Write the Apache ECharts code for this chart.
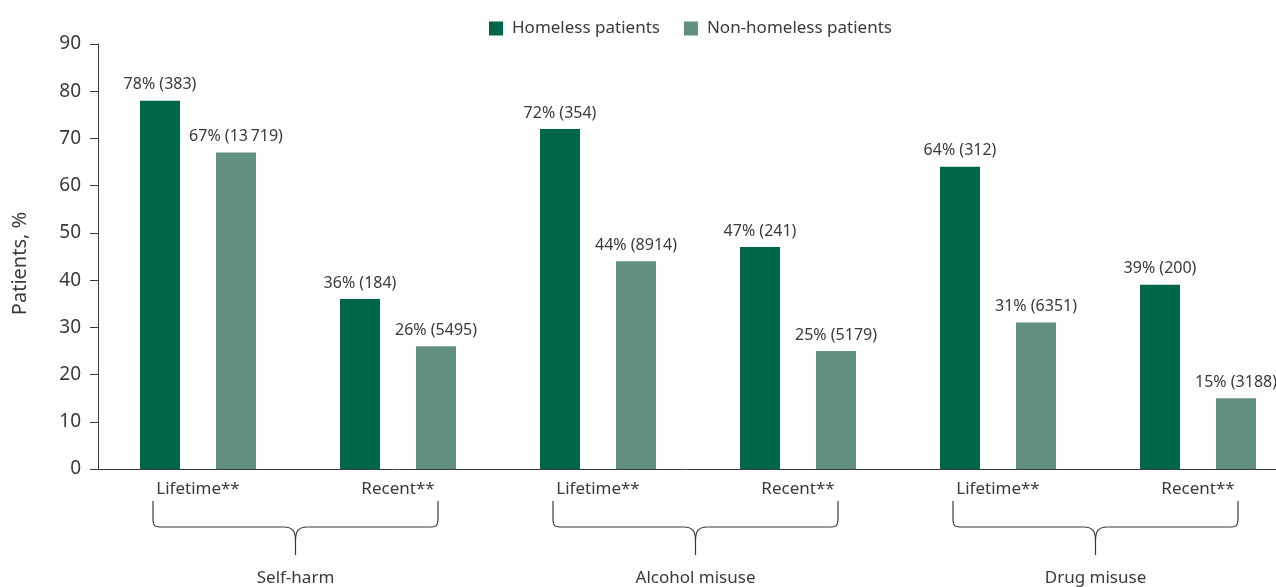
<!DOCTYPE html>
<html>
<head>
<meta charset="utf-8">
<script src="https://cdn.jsdelivr.net/npm/echarts@6/dist/echarts.min.js"></script>
<style>
html,body{margin:0;padding:0;background:#fff;}
#main{width:1276px;height:587px;}
</style>
</head>
<body>
<div id="main"></div>
<script>
const categories = ['Lifetime**', 'Recent**', 'Lifetime**', 'Recent**', 'Lifetime**', 'Recent**'];
const groups = ['Self-harm', 'Alcohol misuse', 'Drug misuse'];
const seriesNames = ['Homeless patients', 'Non-homeless patients'];
const homeless = [78, 36, 72, 47, 64, 39];
const homelessCounts = ['383', '184', '354', '241', '312', '200'];
const nonHomeless = [67, 26, 44, 25, 31, 15];
const nonHomelessCounts = ['13\u2009719', '5495', '8914', '5179', '6351', '3188'];
const yTicks = { min: 0, max: 90, interval: 10 };

const FONT = '"Noto Sans", sans-serif';
const TXT = '#3a3a3a';
const C1 = '#00664a';
const C2 = '#62907e';

const chart = echarts.init(document.getElementById('main'), null, { renderer: 'canvas' });

function labelFor(counts) {
  return function (p) { return p.value + '% (' + counts[p.dataIndex] + ')'; };
}

chart.setOption({
  animation: false,
  textStyle: { fontFamily: FONT },
  legend: {
    left: 484, top: 15,
    itemWidth: 14, itemHeight: 14, itemGap: 24,
    icon: 'rect',
    textStyle: { fontSize: 17, color: TXT, fontFamily: FONT, padding: [0, 0, 0, 4] },
    data: seriesNames
  },
  grid: { left: 98, width: 1200, top: 44, bottom: 118, containLabel: false, outerBoundsMode: 'none' },
  xAxis: {
    type: 'category',
    data: categories,
    axisTick: { show: false },
    axisLine: { lineStyle: { color: TXT, width: 1 } },
    axisLabel: { fontSize: 17, color: TXT, margin: 12, fontFamily: FONT }
  },
  yAxis: {
    type: 'value',
    min: yTicks.min, max: yTicks.max, interval: yTicks.interval,
    name: 'Patients, %',
    nameLocation: 'middle',
    nameGap: 68,
    nameTextStyle: { fontSize: 20, color: TXT, fontFamily: FONT, padding: [0, 14, 0, 0] },
    axisLine: { show: true, lineStyle: { color: TXT, width: 1 } },
    axisTick: { show: true, length: 8, lineStyle: { color: TXT } },
    splitLine: { show: false },
    axisLabel: { fontSize: 19, color: TXT, margin: 17, fontFamily: FONT }
  },
  series: [
    {
      name: seriesNames[0], type: 'bar', data: homeless,
      barWidth: 40, barGap: '90%',
      itemStyle: { color: C1 },
      label: { show: true, position: 'top', distance: 8, fontSize: 16, color: TXT, fontFamily: FONT, formatter: labelFor(homelessCounts) }
    },
    {
      name: seriesNames[1], type: 'bar', data: nonHomeless,
      barWidth: 40, barGap: '90%',
      itemStyle: { color: C2 },
      label: { show: true, position: 'top', distance: 8, fontSize: 16, color: TXT, fontFamily: FONT, formatter: labelFor(nonHomelessCounts) }
    }
  ]
});

// Braces and group labels, positioned from the category axis scale
(function () {
  const y0 = chart.convertToPixel({ yAxisIndex: 0 }, 0);
  const top = y0 + 32, mid = y0 + 58, tip = y0 + 86;
  const els = [];
  const ls = { stroke: TXT, lineWidth: 1.2, fill: null };
  groups.forEach(function (g, gi) {
    const a = chart.convertToPixel({ xAxisIndex: 0 }, gi * 2);
    const b = chart.convertToPixel({ xAxisIndex: 0 }, gi * 2 + 1);
    const xl = a - 45, xr = b + 40, xm = (xl + xr) / 2;
    els.push({ type: 'line', shape: { x1: xl, y1: top, x2: xl, y2: mid - 9 }, style: ls, silent: true });
    els.push({ type: 'bezierCurve', shape: { x1: xl, y1: mid - 9, cpx1: xl, cpy1: mid, cpx2: xl + 2, cpy2: mid, x2: xl + 10, y2: mid }, style: ls, silent: true });
    els.push({ type: 'line', shape: { x1: xl + 10, y1: mid, x2: xm - 12, y2: mid }, style: ls, silent: true });
    els.push({ type: 'bezierCurve', shape: { x1: xm - 12, y1: mid, cpx1: xm - 2, cpy1: mid, cpx2: xm, cpy2: mid + 5, x2: xm, y2: mid + 14 }, style: ls, silent: true });
    els.push({ type: 'line', shape: { x1: xr, y1: top, x2: xr, y2: mid - 9 }, style: ls, silent: true });
    els.push({ type: 'bezierCurve', shape: { x1: xr, y1: mid - 9, cpx1: xr, cpy1: mid, cpx2: xr - 2, cpy2: mid, x2: xr - 10, y2: mid }, style: ls, silent: true });
    els.push({ type: 'line', shape: { x1: xr - 10, y1: mid, x2: xm + 12, y2: mid }, style: ls, silent: true });
    els.push({ type: 'bezierCurve', shape: { x1: xm + 12, y1: mid, cpx1: xm + 2, cpy1: mid, cpx2: xm, cpy2: mid + 5, x2: xm, y2: mid + 14 }, style: ls, silent: true });
    els.push({ type: 'line', shape: { x1: xm, y1: mid + 14, x2: xm, y2: tip }, style: ls, silent: true });
    els.push({ type: 'text', x: xm, y: tip + 15, silent: true,
      style: { text: g, fill: TXT, font: '17px ' + FONT, textAlign: 'center', textVerticalAlign: 'top', align: 'center', verticalAlign: 'top' } });
  });
  chart.setOption({ graphic: { elements: els } });
})();
</script>
</body>
</html>
